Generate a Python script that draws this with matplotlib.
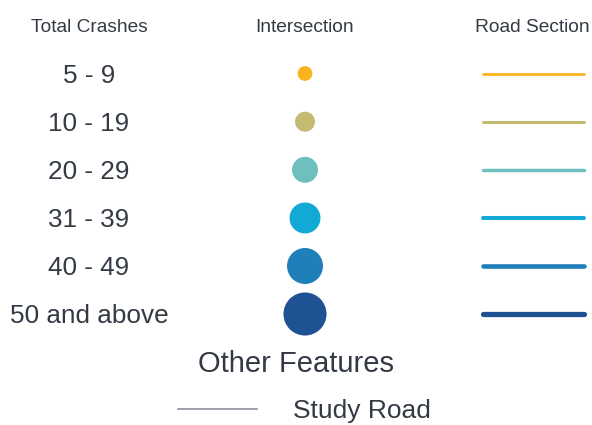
import matplotlib
matplotlib.use("Agg")
import matplotlib.pyplot as plt

# legend rows
crash_labels = ["5 - 9", "10 - 19", "20 - 29", "31 - 39", "40 - 49", "50 and above"]
row_colors = ["#fbb21f", "#c4bb72", "#6ec0bf", "#12a9d6", "#1f7fb8", "#1f5292"]
dot_sizes = [10.6, 14.4, 18.7, 22.3, 25.9, 31.0]   # marker diameter, pt
line_widths = [2.0, 2.2, 2.5, 2.9, 3.3, 3.8]        # pt
headers = ["Total Crashes", "Intersection", "Road Section"]

TXT = "#333a44"
FONT = "Liberation Sans"

fig = plt.figure(figsize=(5.92, 4.25), dpi=100)
ax = fig.add_axes([0, 0, 1, 1])
ax.set_xlim(0, 592)
ax.set_ylim(425, 0)
ax.axis("off")

row_y = [73.5, 121.7, 169.8, 218, 266, 314]
col_x = [89, 305, 532.5]

for x, h in zip(col_x, headers):
    ax.text(x, 31.5, h, family=FONT, fontsize=13.8, color=TXT, ha="center", va="baseline")

for y, lab, c, d, lw in zip(row_y, crash_labels, row_colors, dot_sizes, line_widths):
    ax.text(col_x[0], y + 9.4, lab, family=FONT, fontsize=18.8,
            color=TXT, ha="center", va="baseline")
    ax.scatter([col_x[1]], [y], s=d ** 2, color=c, edgecolors="none")
    ax.plot([483, 584], [y, y], color=c, lw=lw, solid_capstyle="round")

ax.text(296, 371.5, "Other Features", family=FONT, fontsize=21,
        color=TXT, ha="center", va="baseline")
ax.plot([178, 257], [409, 409], color="#80858f", lw=1.1)
ax.text(293, 418, "Study Road", family=FONT, fontsize=19,
        color=TXT, ha="left", va="baseline")

fig.savefig("out.png", dpi=100, facecolor="white")
